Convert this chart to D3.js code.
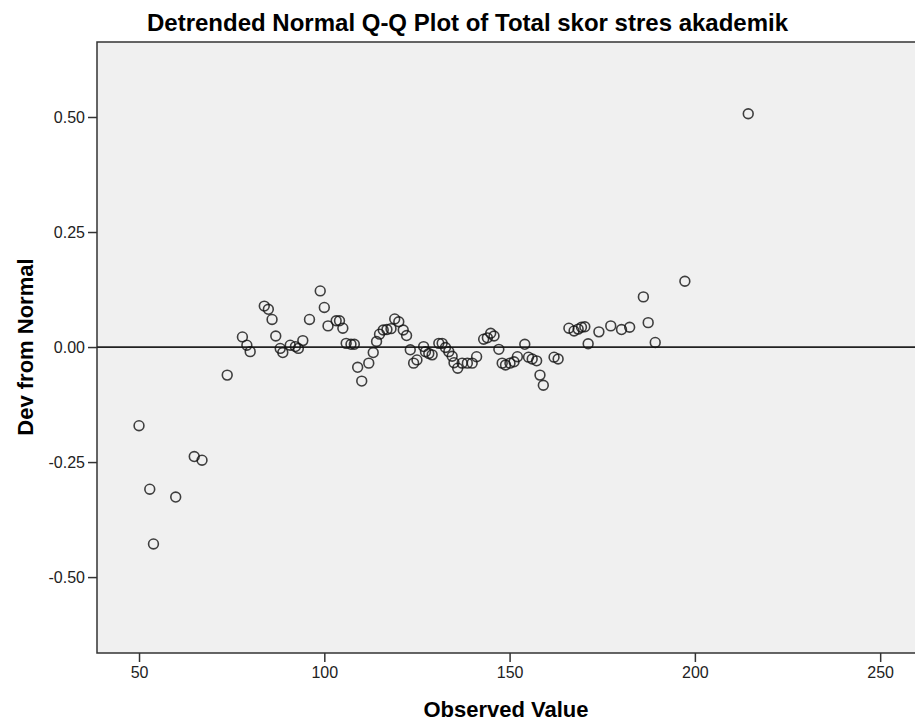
<!DOCTYPE html>
<html>
<head>
<meta charset="utf-8">
<script src="https://cdn.jsdelivr.net/npm/d3@7"></script>
<style>
  body { margin: 0; background: #fff; }
  text { font-family: Arial, "Liberation Sans", sans-serif; fill: #000; }
</style>
</head>
<body>
<div id="chart"></div>
<script>
var observed = [50.0, 52.9, 53.9, 59.9, 64.9, 67.0, 73.8, 77.9, 79.1, 80.0,
  83.8, 84.9, 85.9, 86.9, 88.1, 88.8, 90.8, 92.2, 93.0, 94.2,
  96.0, 98.9, 100.0, 101.0, 103.2, 104.1, 105.0, 105.9, 107.2, 108.1,
  109.0, 110.1, 112.0, 113.2, 114.1, 114.9, 115.9, 116.9, 118.0, 119.0,
  120.1, 121.3, 122.2, 123.2, 124.1, 125.0, 126.8, 127.3, 128.2, 129.1,
  130.9, 131.8, 132.7, 133.6, 134.5, 135.0, 136.0, 137.2, 138.6, 139.9,
  141.1, 143.0, 144.0, 144.9, 145.8, 147.1, 148.0, 148.9, 150.1, 151.2,
  152.1, 154.1, 155.1, 156.1, 157.3, 158.2, 159.1, 162.0, 163.1, 166.0,
  167.4, 168.5, 169.4, 170.3, 171.2, 174.1, 177.3, 180.2, 182.4, 186.1,
  187.4, 189.3, 197.3, 214.4];
var deviation = [-0.171, -0.309, -0.428, -0.326, -0.238, -0.246, -0.061, 0.022, 0.004, -0.010,
  0.089, 0.082, 0.060, 0.024, -0.003, -0.012, 0.004, 0.001, -0.003, 0.014,
  0.060, 0.122, 0.086, 0.046, 0.057, 0.057, 0.041, 0.008, 0.006, 0.006,
  -0.044, -0.074, -0.035, -0.012, 0.012, 0.028, 0.037, 0.038, 0.040, 0.061,
  0.055, 0.037, 0.025, -0.006, -0.035, -0.028, 0.001, -0.010, -0.014, -0.017,
  0.008, 0.008, -0.001, -0.010, -0.020, -0.034, -0.046, -0.035, -0.035, -0.035,
  -0.021, 0.017, 0.020, 0.030, 0.024, -0.005, -0.035, -0.039, -0.035, -0.032,
  -0.021, 0.006, -0.022, -0.026, -0.030, -0.061, -0.083, -0.022, -0.026, 0.041,
  0.035, 0.039, 0.043, 0.044, 0.007, 0.033, 0.046, 0.038, 0.043, 0.109,
  0.053, 0.010, 0.143, 0.507];
var xTicks = [50, 100, 150, 200, 250];
var yTicks = [0.50, 0.25, 0.00, -0.25, -0.50];

var W = 915, H = 724;
var plotL = 97, plotR = 915, plotT = 42, plotB = 653;

var svg = d3.select('#chart').append('svg').attr('width', W).attr('height', H);

var x = d3.scaleLinear().domain([38.66, 259.4]).range([plotL, plotR]);
var y = d3.scaleLinear().domain([-0.665, 0.663]).range([plotB, plotT]);

// plot background
svg.append('rect')
  .attr('x', plotL).attr('y', plotT)
  .attr('width', plotR - plotL + 10).attr('height', plotB - plotT)
  .style('fill', '#f0f0f0')
  .style('stroke', '#333')
  .style('stroke-width', 1.5);

var xAxis = svg.append('g')
  .attr('transform', 'translate(0,' + plotB + ')')
  .call(d3.axisBottom(x).tickValues(xTicks).tickSize(9).tickPadding(5)
    .tickFormat(function(d) { return String(d); }));
var yAxis = svg.append('g')
  .attr('transform', 'translate(' + plotL + ',0)')
  .call(d3.axisLeft(y).tickValues(yTicks).tickSize(9).tickPadding(3)
    .tickFormat(function(d) { return d.toFixed(2); })); // plain hyphen minus like SPSS

[xAxis, yAxis].forEach(function(a) {
  a.select('.domain').remove();
  a.selectAll('line').style('stroke', '#333').style('stroke-width', 1.5);
  a.selectAll('text').style('font-size', '16px').style('font-family', 'Arial, "Liberation Sans", sans-serif').style('fill', '#222');
});

// reference line at zero
svg.append('line')
  .attr('x1', plotL).attr('x2', plotR)
  .attr('y1', y(0)).attr('y2', y(0))
  .style('stroke', '#222')
  .style('stroke-width', 1.8);

var pts = observed.map(function(v, i) { return {x: v, y: deviation[i]}; });

svg.append('g').selectAll('circle')
  .data(pts)
  .enter()
  .append('circle')
  .attr('cx', function(d) { return x(d.x); })
  .attr('cy', function(d) { return y(d.y); })
  .attr('r', 4.9)
  .style('fill', 'none')
  .style('stroke', '#111')
  .style('stroke-opacity', 0.8)
  .style('stroke-width', 1.6);

svg.append('text')
  .attr('x', 147).attr('y', 31)
  .style('font-size', '24px').style('font-weight', 'bold')
  .text('Detrended Normal Q-Q Plot of Total skor stres akademik');

svg.append('text')
  .attr('x', (plotL + plotR) / 2).attr('y', 717)
  .attr('text-anchor', 'middle')
  .style('font-size', '22px').style('font-weight', 'bold')
  .text('Observed Value');

svg.append('text')
  .attr('transform', 'translate(33,' + y(0) + ') rotate(-90)')
  .attr('text-anchor', 'middle')
  .style('font-size', '22px').style('font-weight', 'bold')
  .text('Dev from Normal');
</script>
</body>
</html>
